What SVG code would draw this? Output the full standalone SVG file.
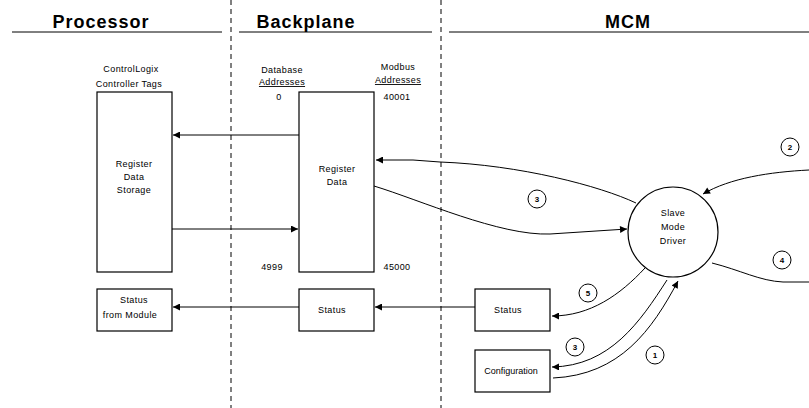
<svg xmlns="http://www.w3.org/2000/svg" width="809" height="408" viewBox="0 0 809 408">
<defs>
<marker id="ah" viewBox="0 0 10 10" refX="10" refY="5" markerWidth="9" markerHeight="7" markerUnits="userSpaceOnUse" orient="auto">
<path d="M0,0 L10,5 L0,10 z" fill="#000"/>
</marker>
</defs>
<style>
.hd{font-family:"Liberation Sans",Arial,sans-serif;font-size:18px;font-weight:bold;letter-spacing:1px;fill:#000;text-anchor:middle}
.t{font-family:"Liberation Sans",Arial,sans-serif;font-size:9px;letter-spacing:0.4px;fill:#000;text-anchor:middle}
.u{text-decoration:underline}
.box{fill:#fff;stroke:#000;stroke-width:1.2}
.ln{fill:none;stroke:#000;stroke-width:1}
.dash{stroke:#000;stroke-width:1;stroke-dasharray:5 4}
.num{fill:#fff;stroke:#000;stroke-width:1}
.nt{font-family:"Liberation Sans",Arial,sans-serif;font-size:8px;font-weight:bold;fill:#000;text-anchor:middle}
</style>
<rect width="809" height="408" fill="#fff"/>
<g id="sections">
<line class="dash" x1="231" y1="0" x2="231" y2="408"/>
<line class="dash" x1="441" y1="0" x2="441" y2="408"/>
<text class="hd" x="101" y="28">Processor</text>
<line class="ln" x1="12" y1="32" x2="222" y2="32"/>
<text class="hd" x="306" y="28">Backplane</text>
<line class="ln" x1="239" y1="32" x2="432" y2="32"/>
<text class="hd" x="628" y="28">MCM</text>
<line class="ln" x1="449" y1="32" x2="809" y2="32"/>
</g>
<g id="labels">
<text class="t" x="131" y="72">ControlLogix</text>
<text class="t" x="129" y="87">Controller Tags</text>
<text class="t" x="282" y="73">Database</text>
<text class="t u" x="282" y="85">Addresses</text>
<text class="t" x="398" y="70">Modbus</text>
<text class="t u" x="398" y="83">Addresses</text>
<text class="t" x="279" y="100">0</text>
<text class="t" x="397" y="100">40001</text>
<text class="t" x="272" y="270">4999</text>
<text class="t" x="397" y="270">45000</text>
</g>
<g id="connectors">
<line class="ln" x1="299" y1="135" x2="173" y2="135" marker-end="url(#ah)"/>
<line class="ln" x1="172" y1="229" x2="298" y2="229" marker-end="url(#ah)"/>
<line class="ln" x1="299" y1="307" x2="173" y2="307" marker-end="url(#ah)"/>
<line class="ln" x1="475" y1="307" x2="375" y2="307" marker-end="url(#ah)"/>
<path class="ln" d="M636,203 C600,186 520,165 440,162 L413,160 L376,160" marker-end="url(#ah)"/>
<path class="ln" d="M374,186 C420,200 500,236 550,234 L627,229" marker-end="url(#ah)"/>
<path class="ln" d="M809,170 C770,172 730,178 703,194" marker-end="url(#ah)"/>
<path class="ln" d="M712,263 C740,270 760,281 783,282 L809,282"/>
<path class="ln" d="M645,268 C620,295 590,316 552,316" marker-end="url(#ah)"/>
<path class="ln" d="M667,280 C640,322 610,366 552,367" marker-end="url(#ah)"/>
<path class="ln" d="M553,378 C620,375 652,330 678,281" marker-end="url(#ah)"/>
</g>
<g id="n-storage">
<rect class="box" x="97" y="92" width="75" height="180"/>
<text class="t" x="134" y="167">Register</text>
<text class="t" x="134" y="180">Data</text>
<text class="t" x="134" y="193">Storage</text>
</g>
<g id="n-regdata">
<rect class="box" x="299" y="92" width="75" height="180"/>
<text class="t" x="337" y="172">Register</text>
<text class="t" x="337" y="185">Data</text>
</g>
<g id="n-status-proc">
<rect class="box" x="97" y="289" width="75" height="42"/>
<text class="t" x="134" y="303">Status</text>
<text class="t" x="130" y="318">from Module</text>
</g>
<g id="n-status-bp">
<rect class="box" x="299" y="289" width="75" height="42"/>
<text class="t" x="332" y="313">Status</text>
</g>
<g id="n-status-mcm">
<rect class="box" x="475" y="289" width="75" height="42"/>
<text class="t" x="508" y="313">Status</text>
</g>
<g id="n-config">
<rect class="box" x="475" y="350" width="75" height="42"/>
<text class="t" x="511" y="374" style="letter-spacing:0">Configuration</text>
</g>
<g id="n-driver">
<circle class="box" cx="673" cy="232" r="45"/>
<text class="t" x="673" y="216">Slave</text>
<text class="t" x="673" y="230">Mode</text>
<text class="t" x="673" y="244">Driver</text>
</g>
<g id="steps">
<circle class="num" cx="790" cy="147" r="9"/><text class="nt" x="790" y="150">2</text>
<circle class="num" cx="537" cy="199" r="9"/><text class="nt" x="537" y="202">3</text>
<circle class="num" cx="782" cy="260" r="9"/><text class="nt" x="782" y="263">4</text>
<circle class="num" cx="588" cy="293" r="9"/><text class="nt" x="588" y="296">5</text>
<circle class="num" cx="575" cy="347" r="9"/><text class="nt" x="575" y="350">3</text>
<circle class="num" cx="655" cy="355" r="9"/><text class="nt" x="655" y="358">1</text>
</g>
</svg>
